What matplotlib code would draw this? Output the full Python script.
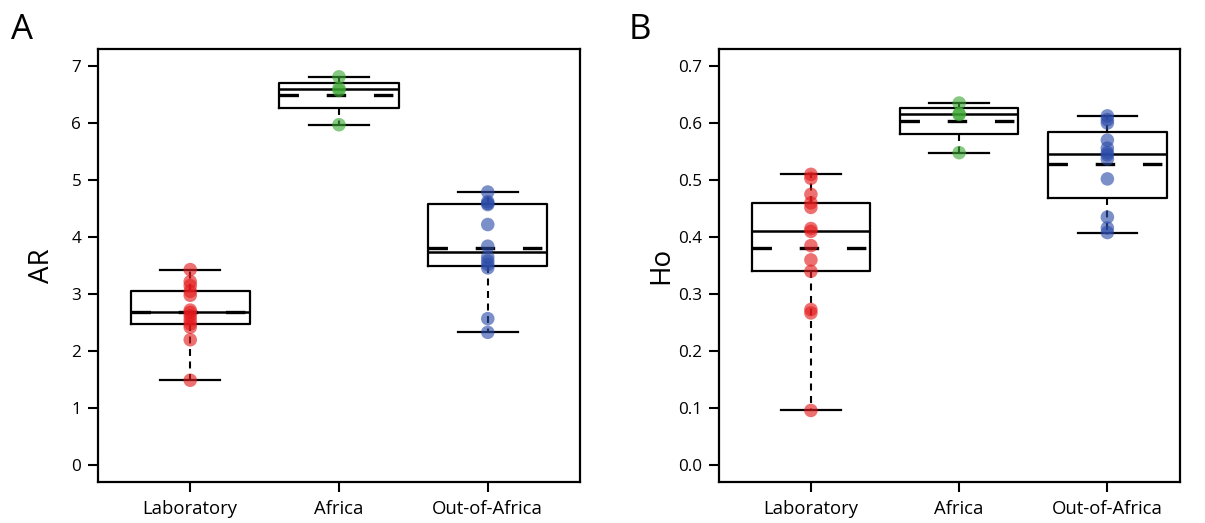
import math
import numpy as np
import matplotlib
matplotlib.use("Agg")
import matplotlib.pyplot as plt

plt.rcParams['font.family'] = ['Open Sans', 'DejaVu Sans']
plt.rcParams['lines.scale_dashes'] = False

groups = ["Laboratory", "Africa", "Out-of-Africa"]
colors = ["#E41A1C", "#3CA832", "#2B4BA8"]

# allelic richness (panel A)
ar_lab = [1.49, 2.20, 2.42, 2.48, 2.55, 2.62, 2.68, 2.72, 2.98, 3.05, 3.15, 3.22, 3.43]
ar_africa = [5.97, 6.57, 6.61, 6.81]
ar_ooa = [2.33, 2.57, 3.46, 3.52, 3.58, 3.65, 3.84, 4.22, 4.57, 4.59, 4.62, 4.79]

# observed heterozygosity (panel B)
ho_lab = [0.096, 0.267, 0.273, 0.340, 0.360, 0.385, 0.410, 0.415, 0.452, 0.460, 0.475, 0.503, 0.510]
ho_africa = [0.548, 0.615, 0.616, 0.635]
ho_ooa = [0.408, 0.416, 0.435, 0.502, 0.537, 0.544, 0.548, 0.556, 0.570, 0.600, 0.606, 0.6125]

ar_ticks = [0, 1, 2, 3, 4, 5, 6, 7]
ho_ticks = [0.0, 0.1, 0.2, 0.3, 0.4, 0.5, 0.6, 0.7]


def fivenum(vals):
    # Tukey hinges, as R's boxplot does
    v = sorted(vals)
    n = len(v)
    n4 = math.floor((n + 3) / 2) / 2
    d = [1, n4, (n + 1) / 2, n + 1 - n4, n]
    return [0.5 * (v[math.floor(x - 1)] + v[math.ceil(x - 1)]) for x in d]


def panel(ax, data, ticks, fmt, ylabel, xright, lpad):
    stats = []
    for vals in data:
        lo, q1, med, q3, hi = fivenum(vals)
        stats.append(dict(whislo=lo, q1=q1, med=med, q3=q3, whishi=hi, fliers=[]))
    pos = [1, 2, 3]
    ax.bxp(stats, positions=pos, widths=0.8, capwidths=0.4, showfliers=False,
           boxprops=dict(color="black", linewidth=1.6),
           medianprops=dict(color="black", linewidth=1.8),
           whiskerprops=dict(color="black", linewidth=1.5, dashes=(5, 4)),
           capprops=dict(color="black", linewidth=1.6))
    for p, vals, c in zip(pos, data, colors):
        m = np.mean(vals)
        ax.plot([p - 0.4, p + 0.4], [m, m], color="black", linewidth=2.4,
                dashes=(14, 20), solid_capstyle="butt", dash_capstyle="butt")
        ax.scatter([p] * len(vals), vals, s=95, color=c, alpha=0.62,
                   edgecolors="none", zorder=3)
    lo_t, hi_t = ticks[0], ticks[-1]
    span = hi_t - lo_t
    ax.set_ylim(lo_t - 0.042 * span, hi_t + 0.0425 * span)
    ax.set_xlim(0.38, xright)
    ax.set_yticks(ticks)
    ax.set_yticklabels([fmt.format(t) for t in ticks])
    ax.set_xticks(pos)
    ax.set_xticklabels(groups)
    ax.tick_params(direction="out", length=7, width=1.5, labelsize=12.3, pad=5)
    ax.tick_params(axis="x", labelsize=13.3, pad=6)
    for s in ax.spines.values():
        s.set_linewidth(1.6)
    ax.set_ylabel(ylabel, fontsize=20, labelpad=lpad)


fig = plt.figure(figsize=(12.05, 5.23), dpi=100)
ax1 = fig.add_axes([98 / 1205, 1 - 482 / 523, 482 / 1205, 433 / 523])
ax2 = fig.add_axes([719 / 1205, 1 - 482 / 523, 461 / 1205, 433 / 523])

panel(ax1, [ar_lab, ar_africa, ar_ooa], ar_ticks, "{:d}", "AR", 3.62, 11)
panel(ax2, [ho_lab, ho_africa, ho_ooa], ho_ticks, "{:.1f}", "Ho", 3.49, 2)

fig.text(11 / 1205, 1 - 39 / 523, "A", fontsize=25)
fig.text(629 / 1205, 1 - 39 / 523, "B", fontsize=25)

fig.savefig("out.png", dpi=100)
